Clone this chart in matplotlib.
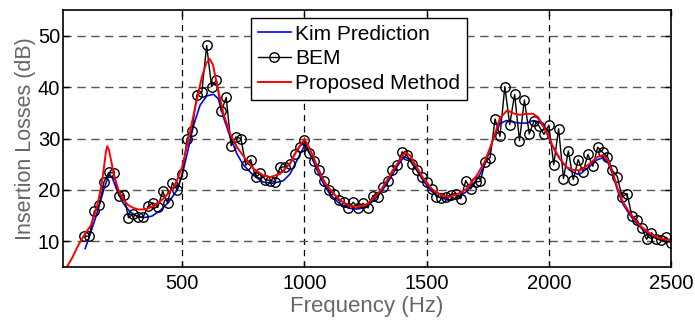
import numpy as np
import matplotlib
matplotlib.use("Agg")
import matplotlib.pyplot as plt

plt.rcParams['font.family'] = ['Liberation Sans', 'DejaVu Sans']

# BEM results, every 20 Hz from 100 to 2500 Hz
bem_freq = np.arange(100, 2501, 20)
bem_il = [11.0, 11.0, 15.8, 17.0, 21.6, 23.4, 23.3, 18.9, 19.0, 14.6,
          15.3, 14.7, 14.7, 16.8, 17.5, 16.6, 19.7, 17.5, 21.4, 20.0,
          23.0, 30.0, 31.5, 38.5, 39.0, 48.1, 40.1, 41.4, 35.3, 38.0,
          28.6, 30.3, 30.0, 24.8, 25.9, 22.5, 23.2, 22.0, 21.8, 21.6,
          24.4, 24.5, 25.0, 27.0, 28.3, 29.7, 27.1, 25.7, 23.9, 21.7,
          19.9, 19.3, 18.0, 17.6, 16.5, 17.6, 16.5, 17.4, 16.5, 18.9,
          18.6, 20.5, 21.8, 23.8, 24.8, 27.4, 26.7, 25.1, 23.8, 22.5,
          21.5, 20.2, 18.7, 18.5, 18.6, 19.1, 19.3, 18.3, 21.8, 20.2,
          21.5, 21.7, 25.5, 26.3, 33.8, 30.4, 40.1, 32.7, 38.6, 29.6,
          37.5, 30.9, 33.5, 32.4, 30.8, 32.6, 24.9, 31.9, 22.2, 27.6,
          22.0, 25.9, 23.5, 26.9, 24.6, 28.3, 27.3, 26.5, 23.8, 22.6,
          18.6, 19.3, 14.9, 14.2, 12.6, 10.4, 11.7, 10.5, 10.2, 10.8,
          9.7]

# Kim prediction
kim_freq = [103, 124, 151, 178, 199, 213, 233, 260, 287, 315, 342, 376,
            410, 444, 478, 500, 520, 546, 573, 601, 628, 648, 669, 696,
            724, 751, 792, 832, 873, 914, 941, 969, 1000, 1020, 1040, 1060,
            1080, 1100, 1120, 1140, 1160, 1180, 1200, 1220, 1240, 1260, 1280,
            1300, 1320, 1340, 1360, 1380, 1400, 1412, 1432, 1460, 1487, 1521,
            1555, 1589, 1623, 1664, 1705, 1718, 1745, 1773, 1800, 1827, 1854,
            1882, 1909, 1936, 1964, 1984, 2004, 2032, 2059, 2086, 2114, 2127,
            2168, 2195, 2222, 2243, 2263, 2284, 2304, 2325, 2352, 2380, 2414,
            2448, 2482, 2500]
kim_il = [8.6, 11.5, 15.4, 19.9, 22.9, 22.5, 19.9, 17.3, 15.7, 14.9, 14.6, 14.9,
          16.0, 17.6, 19.9, 23.0, 27.0, 32.5, 36.5, 38.3, 38.6, 37.7, 34.1, 30.3,
          27.0, 24.8, 22.8, 21.5, 21.3, 21.8, 23.1, 25.7, 28.6, 27.3, 25.2, 23.0,
          21.0, 19.5, 18.4, 17.5, 16.9, 16.5, 16.3, 16.3, 16.5, 17.0, 17.8,
          18.8, 20.0, 21.4, 23.0, 24.6, 26.0, 26.4, 25.9, 23.8, 21.7, 19.7,
          18.5, 18.0, 18.5, 19.7, 22.0, 23.0, 25.7, 30.0, 32.9, 33.5, 33.2,
          33.0, 33.0, 33.5, 33.2, 31.9, 29.6, 27.0, 25.1, 23.8, 23.1, 23.1,
          24.6, 25.8, 26.3, 25.2, 22.7, 19.5, 17.2, 15.6, 13.8, 12.5, 11.2,
          10.4, 10.0, 9.9]

# Proposed method
prop_freq = [20, 28, 50, 70, 90, 110, 125, 140, 155, 170, 180, 188, 193, 200,
             210, 220, 240, 260, 280, 300, 320, 342, 360, 383, 400, 423, 440,
             464, 480, 500, 526, 553, 580, 598, 612, 626, 642, 669, 696, 724,
             758, 792, 832, 860, 900, 941, 969, 1000, 1016, 1037, 1064, 1091,
             1119, 1146, 1180, 1214, 1248, 1282, 1316, 1350, 1384, 1412, 1432,
             1460, 1487, 1521, 1555, 1589, 1623, 1664, 1705, 1739, 1766, 1787,
             1800, 1830, 1854, 1882, 1909, 1936, 1957, 1977, 1997, 2018, 2045,
             2073, 2100, 2127, 2168, 2195, 2222, 2243, 2263, 2284, 2304, 2325,
             2352, 2380, 2414, 2448, 2482, 2500]
prop_il = [4.3, 5.0, 6.8, 8.8, 10.5, 12.0, 13.0, 15.0, 17.5, 21.0, 24.5, 27.5,
           28.5, 27.8, 25.5, 23.0, 19.8, 18.0, 17.0, 16.5, 16.2, 16.2, 16.4,
           16.9, 17.4, 18.3, 19.2, 20.5, 22.0, 24.5, 30.0, 36.1, 41.9, 44.6,
           45.5, 44.3, 40.5, 34.8, 30.9, 28.3, 26.1, 24.1, 22.8, 22.5, 23.1,
           25.1, 27.7, 29.9, 28.6, 26.4, 23.1, 20.9, 19.3, 18.0, 17.0, 16.7,
           17.0, 18.3, 20.2, 22.8, 25.4, 27.3, 26.7, 24.4, 22.2, 20.2, 19.1,
           18.6, 19.1, 20.2, 22.8, 25.6, 29.0, 32.0, 34.0, 35.5, 34.9, 34.6,
           34.8, 34.8, 34.1, 32.5, 30.6, 28.3, 26.1, 24.4, 23.9, 23.8, 25.1,
           26.3, 26.8, 25.7, 23.1, 19.9, 17.6, 16.0, 14.1, 12.8, 11.5, 10.7,
           10.3, 10.2]

xticks = [500, 1000, 1500, 2000, 2500]
yticks = [10, 20, 30, 40, 50]

fig = plt.figure(figsize=(6.95, 3.2), dpi=100)
ax = fig.add_axes([0.0906, 0.1656, 0.8749, 0.8031])

ax.plot(kim_freq, kim_il, color='#0000ff', lw=1.2, label='Kim Prediction')
ax.plot(bem_freq, bem_il, color='black', lw=1.0, marker='o', ms=6.8,
        mfc='none', mec='black', mew=1.0, label='BEM')
ax.plot(prop_freq, prop_il, color='#ff0000', lw=1.4, label='Proposed Method')

ax.set_xlim(12, 2500)
ax.set_ylim(5, 55)
ax.set_xticks(xticks)
ax.set_yticks(yticks)
ax.tick_params(direction='in', length=4, width=1, labelsize=14.5,
               top=True, right=True)
ax.tick_params(axis='y', pad=2)
ax.tick_params(axis='x', pad=5)

ax.yaxis.grid(True, color='#555555', ls=(0, (6, 4)), lw=1.0)
ax.xaxis.grid(True, color='black', ls=(0, (5, 4)), lw=0.9)
ax.set_axisbelow(True)
for s in ax.spines.values():
    s.set_linewidth(1.2)

ax.set_xlabel('Frequency (Hz)', fontsize=16, color='#666666', labelpad=2)
ax.set_ylabel('Insertion Losses (dB)', fontsize=15.5, color='#666666', labelpad=1)

leg = ax.legend(loc='upper left', bbox_to_anchor=(0.309, 0.969),
                borderaxespad=0, fontsize=15, fancybox=False, framealpha=1,
                edgecolor='black', handlelength=1.6, handletextpad=0.2,
                labelspacing=0.28, borderpad=0.32)
leg.get_frame().set_linewidth(1.0)

fig.savefig('out.png', dpi=100)
